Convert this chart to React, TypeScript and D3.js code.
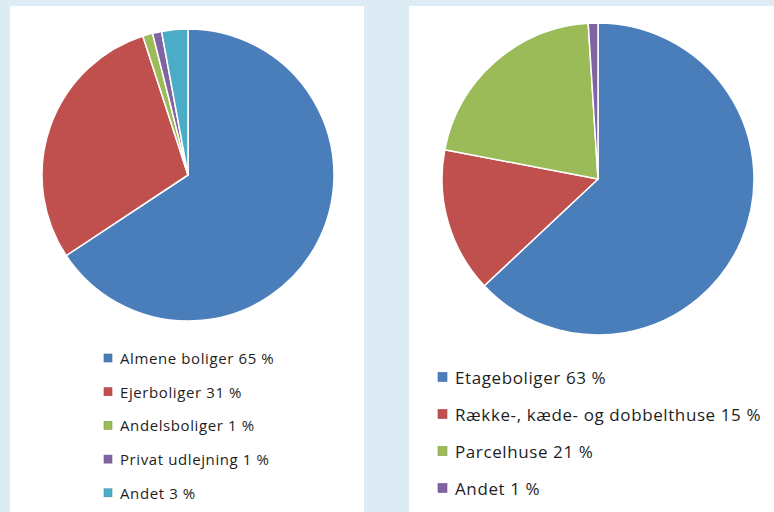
import React from "react";
import * as d3 from "d3";

const leftLabels = ["Almene boliger 65 %", "Ejerboliger 31 %", "Andelsboliger 1 %", "Privat udlejning 1 %", "Andet 3 %"];
const leftValues = [65.7, 29.3, 1.1, 1.0, 2.9];
const leftColors = ["#4a7ebb", "#c0504d", "#9bbb59", "#8064a2", "#4bacc6"];

const rightLabels = ["Etageboliger 63 %", "Række-, kæde- og dobbelthuse 15 %", "Parcelhuse 21 %", "Andet 1 %"];
const rightValues = [63, 15, 21, 1];
const rightColors = ["#4a7ebb", "#c0504d", "#9bbb59", "#8064a2"];

const W = 774, H = 512;
const BG = "#ddebf4";
const FONT = "'Open Sans', 'Noto Sans', sans-serif";

function Pie({ values, colors, cx, cy, r }: { values: number[]; colors: string[]; cx: number; cy: number; r: number }) {
  const arcs = d3.pie<number>().sort(null).value((d) => d)(values);
  const arc = d3.arc<d3.PieArcDatum<number>>().innerRadius(0).outerRadius(r);
  return (
    <g transform={`translate(${cx},${cy})`}>
      {arcs.map((a, i) => (
        <path key={i} d={arc(a) || ""} fill={colors[i]} stroke="#ffffff" strokeWidth={1.5} strokeLinejoin="round" />
      ))}
    </g>
  );
}

function Legend({ labels, colors, x, y0, step, size, fontSize, textX, spacing }: { labels: string[]; colors: string[]; x: number; y0: number; step: number; size: number; fontSize: number; textX: number; spacing: number }) {
  const yScale = d3.scaleLinear().domain([0, 1]).range([y0, y0 + step]);
  return (
    <g>
      {labels.map((l, i) => {
        const y = yScale(i);
        return (
          <g key={i}>
            <rect x={x} y={y - size / 2} width={size} height={size} fill={colors[i]} stroke={d3.color(colors[i])!.darker(0.5).toString()} strokeWidth={0.6} />
            <text x={textX} y={y} dominantBaseline="central" fontSize={fontSize} letterSpacing={spacing} fontFamily={FONT} fill="#1e1e1e">{l}</text>
          </g>
        );
      })}
    </g>
  );
}

export default function App() {
  return (
    <svg width={W} height={H} style={{ position: "absolute", left: 0, top: 0, display: "block" }}>
      <rect x={0} y={0} width={W} height={H} fill={BG} />
      <rect x={10} y={6} width={354} height={H - 6} fill="#ffffff" />
      <rect x={409} y={6} width={W - 409} height={H - 6} fill="#ffffff" />
      <Pie values={leftValues} colors={leftColors} cx={188} cy={175} r={146} />
      <Pie values={rightValues} colors={rightColors} cx={598} cy={179} r={156} />
      <Legend labels={leftLabels} colors={leftColors} x={104} y0={358} step={33.7} size={8} fontSize={15} textX={120} spacing={0.6} />
      <Legend labels={rightLabels} colors={rightColors} x={438} y0={377} step={37} size={9} fontSize={17} textX={455} spacing={0.6} />
    </svg>
  );
}
